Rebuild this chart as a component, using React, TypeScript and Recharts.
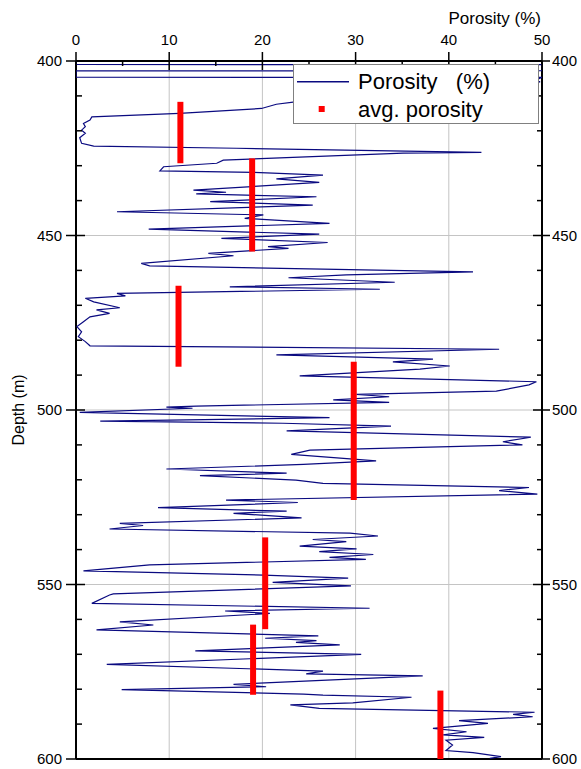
import React from 'react';
import { ScatterChart, Scatter, XAxis, YAxis, ReferenceLine, Legend } from 'recharts';

// ---- Porosity log (depth in m, porosity in %) ----
const depthLog = [
  400.0, 401.0, 401.05, 402.8, 402.85, 404.65, 404.7, 405.5, 406.0, 408.0,
  410.0, 411.0, 411.8, 412.4, 413.6, 413.8, 415.0, 416.0, 416.9, 417.9,
  418.8, 419.8, 420.7, 422.0, 423.6, 424.4, 425.0, 426.2, 426.4, 428.4,
  429.3, 430.3, 431.5, 431.9, 432.7, 433.8, 434.8, 437.0, 437.6, 438.1,
  438.9, 440.3, 441.3, 443.2, 444.1, 445.1, 446.5, 448.2, 449.6, 450.8,
  452.0, 453.2, 453.7, 455.1, 455.8, 458.0, 458.7, 460.4, 461.3, 462.1,
  463.4, 464.7, 465.4, 466.6, 467.3, 468.0, 469.0, 470.7, 471.3, 472.3,
  473.3, 474.7, 476.1, 477.6, 479.0, 480.4, 481.6, 482.6, 484.2, 485.4,
  486.2, 487.4, 488.3, 490.2, 491.9, 492.8, 494.6, 495.5, 496.2, 497.1,
  497.8, 498.9, 499.2, 499.5, 500.7, 502.2, 503.2, 503.8, 504.6, 506.0,
  507.8, 509.1, 510.0, 511.5, 512.7, 514.6, 515.6, 516.9, 518.1, 518.8,
  520.1, 521.0, 522.2, 523.1, 524.1, 525.8, 526.5, 528.0, 529.0, 529.6,
  530.9, 532.5, 533.1, 534.1, 535.3, 536.1, 537.1, 537.7, 539.0, 539.8,
  540.6, 541.4, 542.2, 542.8, 544.4, 546.1, 547.3, 548.2, 549.4, 550.4,
  552.7, 553.0, 555.4, 556.8, 557.6, 558.3, 560.7, 561.6, 563.0, 564.7,
  565.4, 566.1, 566.6, 567.3, 569.0, 570.0, 572.9, 574.8, 575.6, 576.2,
  578.6, 579.3, 580.1, 581.4, 581.7, 582.3, 583.9, 584.5, 585.5, 586.6,
  587.2, 587.9, 589.0, 589.8, 591.2, 592.2, 593.1, 593.8, 594.6, 596.0,
  597.6, 598.2, 599.3, 599.8,
];
const porosityLog = [
  0, 0, 50, 50, 0, 0, 50, 49.3, 49.8, 42,
  31, 26, 23.3, 21.5, 19.9, 18.8, 11.1, 1.7, 1.5, 0.8,
  1.0, 0.6, 1.0, 0.4, 0.6, 1.9, 17.2, 43.5, 35.1, 15.8,
  15.1, 9.4, 9.0, 19.0, 26.5, 21.5, 26.1, 12.6, 16.1, 12.9,
  25.8, 14.4, 25.4, 4.4, 20.1, 18.1, 27.2, 7.8, 26.1, 15.6,
  27.0, 20.6, 22.8, 14.2, 16.9, 7.0, 7.9, 42.6, 29.0, 22.8,
  34.2, 16.5, 32.6, 4.4, 5.3, 1.0, 1.9, 4.7, 2.2, 3.6,
  1.5, 0.8, 0.1, 0.6, 0.25, 1.0, 1.5, 45.4, 21.5, 38.3,
  34.0, 40.1, 36.9, 24.0, 49.4, 48.6, 45.1, 30.1, 33.6, 27.6,
  33.6, 12.9, 9.7, 12.5, 0.4, 27.2, 2.6, 22.2, 33.8, 22.6,
  48.8, 45.8, 47.9, 25.1, 23.1, 32.2, 24.4, 9.7, 22.6, 13.3,
  23.6, 26.5, 48.6, 45.4, 49.5, 16.1, 23.8, 8.8, 22.6, 16.9,
  24.2, 4.7, 7.2, 3.6, 29.4, 32.4, 25.4, 29.0, 24.0, 30.1,
  26.1, 31.9, 27.2, 31.1, 7.9, 0.8, 20.1, 29.2, 21.1, 29.5,
  4.0, 3.6, 1.7, 31.5, 16.0, 20.8, 4.7, 8.3, 2.2, 26.0,
  20.3, 25.8, 23.6, 28.3, 12.8, 30.6, 3.3, 26.5, 24.7, 37.2,
  16.9, 20.4, 4.9, 24.4, 26.5, 36.0, 29.7, 23.0, 26.1, 49.2,
  46.9, 49.0, 41.1, 44.2, 38.3, 41.9, 39.4, 43.8, 39.7, 40.4,
  39.7, 42.6, 45.6, 44.4,
];

// ---- Average porosity intervals ----
const avgPorosity = [11.2, 18.9, 11.0, 29.8, 20.3, 19.0, 39.1];
const avgTop = [411.7, 427.9, 464.4, 486.2, 536.5, 561.5, 580.4];
const avgBottom = [429.3, 454.6, 487.6, 525.8, 562.8, 581.6, 600.0];

// ---- Ticks / grid ----
const porosityTicks = [0, 5, 10, 15, 20, 25, 30, 35, 40, 45, 50];
const depthTicks = [400, 410, 420, 430, 440, 450, 460, 470, 480, 490, 500, 510, 520, 530, 540, 550, 560, 570, 580, 590, 600];
const porosityGrid = [10, 20, 30, 40];
const depthGrid = [450, 500, 550];

const logData = depthLog.map((d, i) => ({ depth: d, por: porosityLog[i] }));
const avgSegments = avgPorosity.map((p, i) => [
  { depth: avgTop[i], por: p },
  { depth: avgBottom[i], por: p },
]);

const FONT = "'Liberation Sans', Arial, sans-serif";
const TICK_FS = 15;
const TOP_M = 21;
const LEFT_M = 14;
const RIGHT_M = 10;

const TopTick = (props: any) => {
  const { x, y, payload } = props;
  const v = payload.value;
  const axisY = y + TOP_M;
  const major = v % 10 === 0;
  return (
    <g>
      <line x1={x} x2={x} y1={major ? axisY - 9 : axisY} y2={axisY + (major ? 9 : 5)} stroke="#000" strokeWidth={1.5} />
      {major && (
        <text x={x} y={y} dy="0.35em" textAnchor="middle" fontSize={TICK_FS} fontFamily={FONT} fill="#000">
          {v}
        </text>
      )}
    </g>
  );
};

const LeftTick = (props: any) => {
  const { x, y, payload } = props;
  const v = payload.value;
  const axisX = x + LEFT_M;
  const major = v % 50 === 0;
  return (
    <g>
      <line x1={major ? axisX - 10 : axisX} x2={axisX + (major ? 9 : 6)} y1={y} y2={y} stroke="#000" strokeWidth={1.5} />
      {major && (
        <text x={x} y={y} dy="0.35em" textAnchor="end" fontSize={TICK_FS} fontFamily={FONT} fill="#000">
          {v}
        </text>
      )}
    </g>
  );
};

const RightTick = (props: any) => {
  const { x, y, payload } = props;
  const v = payload.value;
  const axisX = x - RIGHT_M;
  const major = v % 50 === 0;
  return (
    <g>
      <line x1={axisX - (major ? 9 : 5)} x2={major ? axisX + 8 : axisX} y1={y} y2={y} stroke="#000" strokeWidth={1.5} />
      {major && (
        <text x={x} y={y} dy="0.35em" textAnchor="start" fontSize={TICK_FS} fontFamily={FONT} fill="#000">
          {v}
        </text>
      )}
    </g>
  );
};

const TopTitle = (props: any) => {
  const vb = props.viewBox || { x: 76, y: 31, width: 466, height: 30 };
  return (
    <text x={vb.x + vb.width - 1} y={vb.y - 13} dy="0.35em" textAnchor="end" fontSize={17} fontFamily={FONT} fill="#000">
      Porosity (%)
    </text>
  );
};

const LeftTitle = (props: any) => {
  const vb = props.viewBox || { x: 36, y: 61, width: 40, height: 698 };
  const cy = vb.y + vb.height / 2;
  return (
    <text x={18} y={cy} dy="0.35em" textAnchor="middle" fontSize={16} fontFamily={FONT} fill="#000" transform={`rotate(-90, 18, ${cy})`}>
      Depth (m)
    </text>
  );
};

const LegendBox = () => (
  <div style={{ width: 246, height: 60, background: '#fff', border: '1px solid #808080', boxSizing: 'border-box' }}>
    <svg width={244} height={58} style={{ display: 'block' }}>
      <line x1={3} x2={55} y1={16.7} y2={16.7} stroke="#0a0a80" strokeWidth={1.5} />
      <text x={64} y={24.3} fontSize={22} fontFamily={FONT} fill="#000" style={{ whiteSpace: 'pre' }} xmlSpace="preserve">
        {'Porosity   (%)'}
      </text>
      <rect x={24.7} y={41} width={6} height={6} fill="#ff0000" />
      <text x={64} y={51.7} fontSize={22} fontFamily={FONT} fill="#000">
        avg. porosity
      </text>
    </svg>
  </div>
);

const noShape = () => <g />;

export default function App() {
  return (
    <div style={{ position: 'absolute', left: 0, top: 0, width: 581, height: 769, background: '#fff' }}>
      <ScatterChart width={581} height={769} margin={{ top: 31, right: 7, bottom: 10, left: 36 }}>
        <XAxis
          type="number"
          dataKey="por"
          orientation="top"
          domain={[0, 50]}
          ticks={porosityTicks}
          interval={0}
          height={30}
          tickSize={0}
          tickMargin={TOP_M}
          tickLine={false}
          tick={<TopTick />}
          axisLine={{ stroke: '#000', strokeWidth: 2 }}
          allowDataOverflow
          label={{ content: <TopTitle /> }}
        />
        <YAxis
          type="number"
          dataKey="depth"
          domain={[400, 600]}
          reversed
          ticks={depthTicks}
          interval={0}
          width={40}
          tickSize={0}
          tickMargin={LEFT_M}
          tickLine={false}
          tick={<LeftTick />}
          axisLine={{ stroke: '#000', strokeWidth: 2 }}
          allowDataOverflow
          label={{ content: <LeftTitle /> }}
        />
        <YAxis
          yAxisId="right"
          orientation="right"
          type="number"
          domain={[400, 600]}
          reversed
          ticks={depthTicks}
          interval={0}
          width={32}
          tickSize={0}
          tickMargin={RIGHT_M}
          tickLine={false}
          tick={<RightTick />}
          axisLine={{ stroke: '#000', strokeWidth: 2 }}
          allowDataOverflow
        />
        {porosityGrid.map((g) => (
          <ReferenceLine key={'gx' + g} x={g} stroke="#c4c4c4" strokeWidth={1} />
        ))}
        {depthGrid.map((g) => (
          <ReferenceLine key={'gy' + g} y={g} stroke="#c4c4c4" strokeWidth={1} />
        ))}
        <ReferenceLine y={600} stroke="#000" strokeWidth={2} />
        <Scatter
          name="Porosity (%)"
          data={logData}
          line={{ stroke: '#0a0a80', strokeWidth: 1.2 }}
          lineType="joint"
          shape={noShape}
          fill="#0a0a80"
          isAnimationActive={false}
        />
        {avgSegments.map((seg, i) => (
          <Scatter
            key={'avg' + i}
            name="avg. porosity"
            data={seg}
            line={{ stroke: '#ff0000', strokeWidth: 6 }}
            lineType="joint"
            shape={noShape}
            fill="#ff0000"
            isAnimationActive={false}
          />
        ))}
        <Legend
          layout="horizontal"
          verticalAlign="middle"
          align="center"
          content={<LegendBox />}
          wrapperStyle={{ position: 'absolute', left: 293, top: 64, width: 246, height: 60 }}
        />
      </ScatterChart>
    </div>
  );
}
